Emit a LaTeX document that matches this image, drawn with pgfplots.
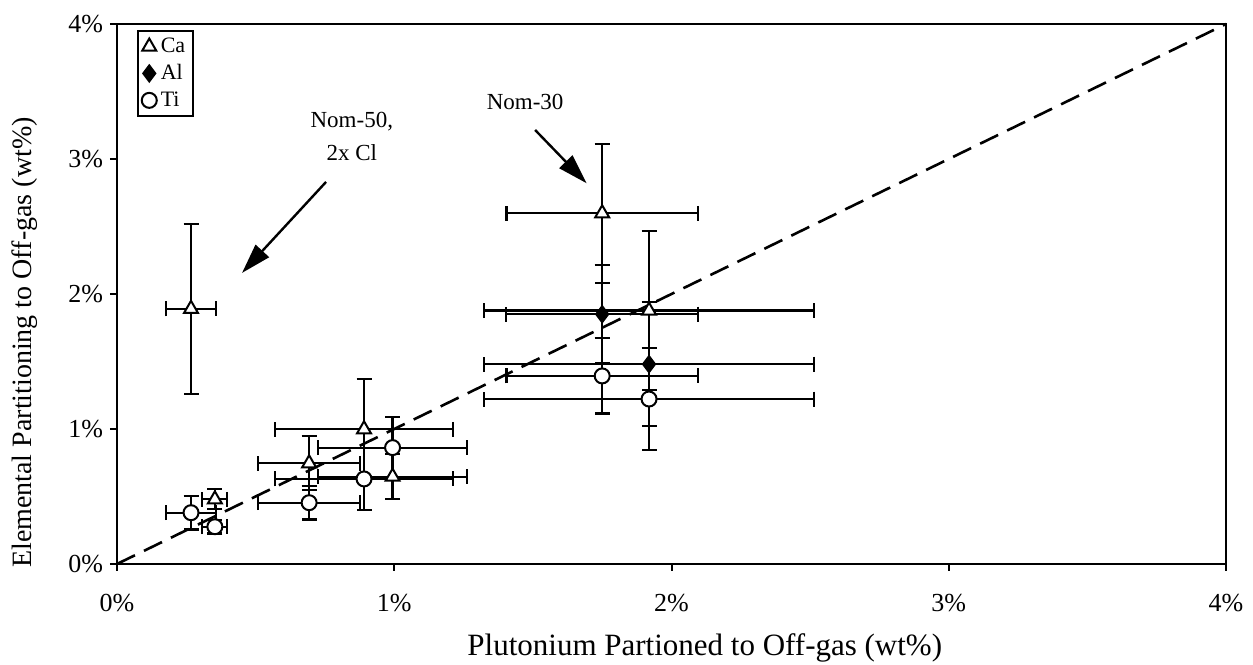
\documentclass[border=0pt]{standalone}
\usepackage{fontspec}
\setmainfont{Liberation Serif}
\usepackage{pgfplots}
\usepackage{pgfplotstable}
\pgfplotsset{compat=1.18}
\usetikzlibrary{arrows.meta}

\pgfplotstableread{
x     y     ex    ey
0.267 1.890 0.090 0.630
0.353 0.479 0.045 0.074
0.693 0.746 0.184 0.200
0.891 0.998 0.320 0.370
0.994 0.647 0.268 0.168
1.750 2.598 0.345 0.515
1.919 1.877 0.596 0.590
}\ca

\pgfplotstableread{
x     y     ex    ey
1.750 1.850 0.347 0.365
1.919 1.480 0.596 0.460
}\al

\pgfplotstableread{
x     y     ex    ey
0.267 0.380 0.090 0.125
0.353 0.276 0.045 0.050
0.693 0.454 0.184 0.125
0.891 0.630 0.320 0.230
0.994 0.862 0.268 0.225
1.750 1.393 0.345 0.278
1.919 1.222 0.596 0.380
}\ti

\begin{document}
\begin{tikzpicture}
\begin{axis}[
  width=554.5pt, height=270pt, scale only axis,
  xmin=0, xmax=4, ymin=0, ymax=4,
  xtick={0,1,2,3,4}, ytick={0,1,2,3,4},
  xticklabels={0\%,1\%,2\%,3\%,4\%},
  yticklabels={0\%,1\%,2\%,3\%,4\%},
  xtick pos=bottom, ytick pos=left,
  tick align=outside, major tick length=3.5pt,
  tick style={line width=1pt, black},
  axis line style={line width=1pt},
  ticklabel style={font=\fontsize{13}{15}\selectfont},
  xticklabel style={yshift=-8pt},
  xlabel={Plutonium Partioned to Off-gas (wt\%)},
  ylabel={Elemental Partitioning to Off-gas (wt\%)},
  xlabel style={font=\fontsize{15.5}{17}\selectfont, at={(axis description cs:0.53,0)}, anchor=center, yshift=-42pt},
  ylabel style={font=\fontsize{14}{16}\selectfont, at={(axis description cs:-0.083,0.41)}, anchor=center},
  legend style={at={(0.018,0.989)}, anchor=north west, draw=black, line width=0.8pt,
    font=\fontsize{11}{13}\selectfont, row sep=0.5pt, inner xsep=2pt, inner ysep=1.5pt},
  legend cell align=left,
  legend image code/.code={\draw[mark repeat=2,mark phase=2] plot coordinates {(0cm,0cm)(0.15cm,0cm)(0.3cm,0cm)};},
  clip=false,
]
\addplot[forget plot, line width=1.3pt, dash pattern=on 10pt off 5pt] coordinates {(0,0) (4,4)};

\addplot[only marks, black, mark=triangle*, mark size=4pt, mark options={fill=white, line width=1pt},
  error bars/.cd, x dir=both, x explicit, y dir=both, y explicit,
  error bar style={line width=1.1pt, black},
  error mark options={rotate=90, mark size=3.75pt, line width=1.1pt, black}]
  table[x=x, y=y, x error=ex, y error=ey] {\ca};
\addlegendentry{Ca}

\addplot[only marks, black, mark=diamond*, mark size=4pt, mark options={fill=black, line width=1pt},
  error bars/.cd, x dir=both, x explicit, y dir=both, y explicit,
  error bar style={line width=1.1pt, black},
  error mark options={rotate=90, mark size=3.75pt, line width=1.1pt, black}]
  table[x=x, y=y, x error=ex, y error=ey] {\al};
\addlegendentry{Al}

\addplot[only marks, black, mark=*, mark size=3.75pt, mark options={fill=white, line width=1pt},
  error bars/.cd, x dir=both, x explicit, y dir=both, y explicit,
  error bar style={line width=1.1pt, black},
  error mark options={rotate=90, mark size=3.75pt, line width=1.1pt, black}]
  table[x=x, y=y, x error=ex, y error=ey] {\ti};
\addlegendentry{Ti}

\node[align=center, font=\fontsize{11.5}{16.5}\selectfont] at (axis cs:0.847,3.165) {Nom-50,\\2x Cl};
\draw[line width=1.2pt, -{Triangle[length=15pt,width=9pt]}] (axis cs:0.754,2.83) -- (axis cs:0.451,2.156);
\node[font=\fontsize{11.5}{14}\selectfont] at (axis cs:1.472,3.424) {Nom-30};
\draw[line width=1.2pt, -{Triangle[length=15pt,width=9pt]}] (axis cs:1.508,3.215) -- (axis cs:1.694,2.82);

\coordinate (bl) at (rel axis cs:0,0);
\coordinate (tr) at (rel axis cs:1,1);
\end{axis}
\pgfresetboundingbox
\path ([shift={(-58.5pt,-50.5pt)}]bl) rectangle ([shift={(13.5pt,12pt)}]tr);
\end{tikzpicture}
\end{document}
